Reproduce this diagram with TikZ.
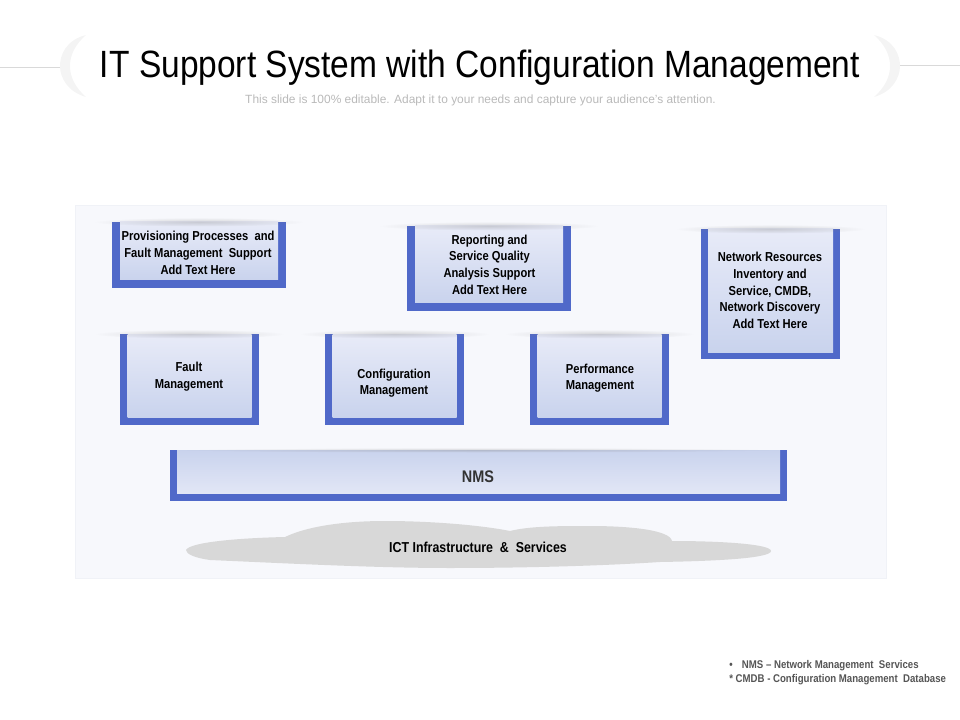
\documentclass[tikz,border=0pt]{standalone}
\usepackage{fontspec}
\setmainfont{Liberation Sans}
\newfontfamily\titlefont[FakeStretch=0.882]{Liberation Sans}
\newfontfamily\boxfont[FakeStretch=0.86]{Liberation Sans}
\usetikzlibrary{positioning,shapes.geometric,fadings}
\definecolor{framecol}{HTML}{5069C9}
\definecolor{bgcol}{HTML}{F7F8FC}
\definecolor{bgedge}{HTML}{F0F2F7}
\definecolor{paneltop}{HTML}{E8EBF8}
\definecolor{panelbot}{HTML}{C9D3ED}
\definecolor{cloudcol}{HTML}{D8D8D8}
\definecolor{notecol}{HTML}{555555}
\newcommand{\px}{0.75pt}
\tikzfading[name=glowfade, inner color=transparent!70, outer color=transparent!100]
\tikzset{
    frame/.style={rectangle, fill=framecol, inner sep=0pt, outer sep=0pt},
    panel/.style={rectangle, top color=paneltop, bottom color=panelbot, inner sep=0pt, outer sep=0pt},
    glow/.style={ellipse, fill=gray, path fading=glowfade, inner sep=0pt, minimum height=9*\px},
    caption/.style={align=center, font=\boxfont\bfseries\fontsize{9.75pt}{12.5pt}\selectfont, text=black, inner sep=0pt}
}

\begin{document}
\begin{tikzpicture}[x=\px, y=-\px]
\useasboundingbox (0,0) rectangle (960,720);

% Title band
\draw [gray!30, line width=0.5pt] (0,67) -- (62,67);
\draw [gray!30, line width=0.5pt] (898,65) -- (960,65);
\fill [gray!9] (86,35) .. controls (66,40) and (60,55) .. (60,66) .. controls (60,78) and (68,92) .. (86,97) .. controls (76,88) and (70,78) .. (70,66) .. controls (70,54) and (76,44) .. (86,35);
\fill [gray!9] (874,35) .. controls (894,40) and (900,55) .. (900,66) .. controls (900,78) and (892,92) .. (874,97) .. controls (884,88) and (890,78) .. (890,66) .. controls (890,54) and (884,44) .. (874,35);
\node [font=\titlefont\fontsize{28.5pt}{32pt}\selectfont, inner sep=0pt] (title) at (480,68) {IT Support System with Configuration Management};
\node [font=\fontsize{8.95pt}{10pt}\selectfont, text=gray!55, inner sep=0pt] (subtitle) at (480.5,100) {This slide is 100\% editable. Adapt it to your needs and capture your audience's attention.};

% Backdrop
\node [rectangle, fill=bgcol, draw=bgedge, line width=0.5pt, inner sep=0pt, minimum width=811*\px, minimum height=373*\px, anchor=north west] (backdrop) at (75,205) {};

% Top row
\node [frame, minimum width=174*\px, minimum height=66*\px, anchor=north west] (provframe) at (112,222) {};
\node [panel, minimum width=158*\px, minimum height=58*\px, anchor=north] (provpanel) at (provframe.north) {};
\node [glow, minimum width=210*\px] (provglow) at (provframe.north) {};
\node [caption] (provtext) at (198,253) {Provisioning Processes~ and\\Fault Management~ Support\\Add Text Here};

\node [frame, minimum width=164*\px, minimum height=85*\px, anchor=north west] (repframe) at (407,226) {};
\node [panel, minimum width=148*\px, minimum height=77*\px, anchor=north] (reppanel) at (repframe.north) {};
\node [glow, minimum width=220*\px] (repglow) at (repframe.north) {};
\node [caption] (reptext) at (489.5,264.5) {Reporting and\\Service Quality\\Analysis Support\\Add Text Here};

\node [frame, minimum width=139*\px, minimum height=130*\px, anchor=north west] (netframe) at (701,229) {};
\node [panel, minimum width=125*\px, minimum height=123*\px, anchor=north] (netpanel) at (netframe.north) {};
\node [glow, minimum width=190*\px] (netglow) at (netframe.north) {};
\node [caption] (nettext) at (770,290.5) {Network Resources\\Inventory and\\Service, CMDB,\\Network Discovery\\Add Text Here};

% Middle row
\node [frame, minimum width=139*\px, minimum height=91*\px, anchor=north west] (faultframe) at (120,334) {};
\node [panel, minimum width=124*\px, minimum height=83*\px, anchor=north] (faultpanel) at (faultframe.north) {};
\node [glow, minimum width=190*\px] (faultglow) at (faultframe.north) {};
\node [caption] (faulttext) at (189,376.5) {Fault\\Management};

\node [frame, minimum width=139*\px, minimum height=91*\px, right=66*\px of faultframe] (confframe) {};
\node [panel, minimum width=124*\px, minimum height=83*\px, anchor=north] (confpanel) at (confframe.north) {};
\node [glow, minimum width=190*\px] (confglow) at (confframe.north) {};
\node [caption] (conftext) at (394,383) {Configuration\\Management};

\node [frame, minimum width=139*\px, minimum height=91*\px, right=66*\px of confframe] (perfframe) {};
\node [panel, minimum width=124*\px, minimum height=83*\px, anchor=north] (perfpanel) at (perfframe.north) {};
\node [glow, minimum width=190*\px] (perfglow) at (perfframe.north) {};
\node [caption] (perftext) at (600,378) {Performance\\Management};

% NMS bar
\node [frame, minimum width=617*\px, minimum height=51*\px, anchor=north west] (nmsframe) at (170,450) {};
\node [panel, top color=panelbot, bottom color=paneltop!80!panelbot, minimum width=603*\px, minimum height=43*\px, anchor=north] (nmspanel) at (nmsframe.north) {};
\node [glow, minimum width=610*\px, minimum height=5*\px] (nmsglow) at (nmsframe.north) {};
\node [caption, text=black!80, font=\boxfont\bfseries\fontsize{12.6pt}{14pt}\selectfont] (nmstext) at (478,477) {NMS};

% Cloud
\fill [cloudcol] (186,550) .. controls (190,542) and (240,538) .. (285,537)
    .. controls (310,525) and (350,521) .. (385,521)
    .. controls (430,521) and (480,525) .. (510,531)
    .. controls (530,526) and (560,526) .. (590,526)
    .. controls (630,526) and (670,530) .. (672,541)
    .. controls (720,541) and (771,544) .. (771,551)
    .. controls (771,558) and (720,561) .. (660,562)
    .. controls (600,566) and (520,568) .. (450,568)
    .. controls (380,568) and (300,564) .. (210,560)
    .. controls (195,558) and (186,554) .. (186,550) -- cycle;
\node [caption, font=\boxfont\bfseries\fontsize{10.8pt}{13pt}\selectfont] (icttext) at (478,547) {ICT Infrastructure~ \&~ Services};

% Footnotes
\node [font=\boxfont\bfseries\fontsize{8.4pt}{10.5pt}\selectfont, text=notecol, align=left, inner sep=0pt, anchor=west] (notes) at (729,672.5) {\textbullet\hspace{7pt}NMS – Network Management~ Services\\* CMDB - Configuration Management~ Database};

\end{tikzpicture}
\end{document}
